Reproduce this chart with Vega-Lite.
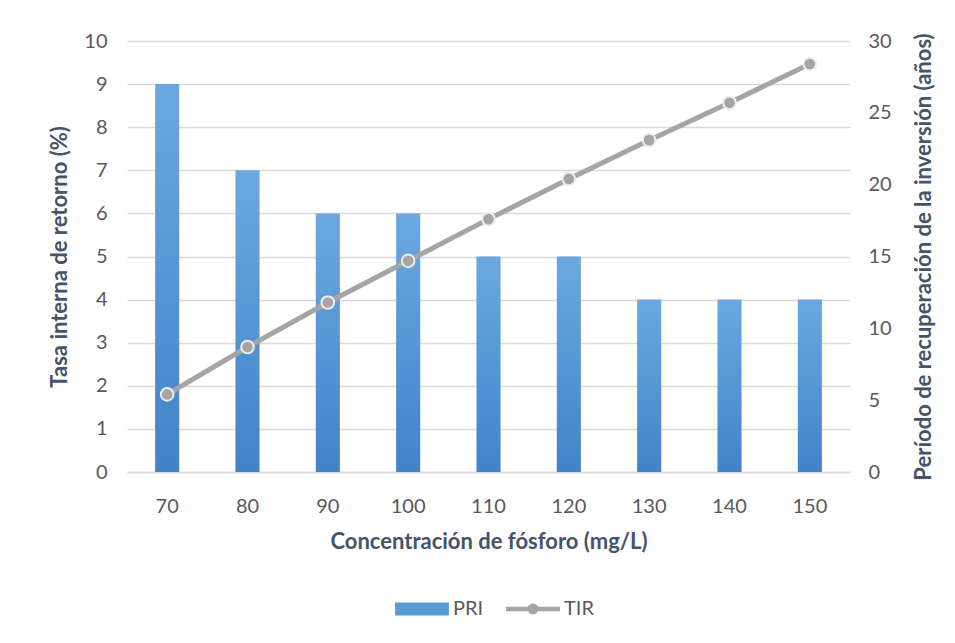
{
  "$schema": "https://vega.github.io/schema/vega-lite/v6.json",
  "width": 723,
  "height": 431,
  "autosize": {"type": "none"},
  "padding": {"left": 127, "top": 41, "right": 105, "bottom": 171},
  "background": "white",
  "config": {
    "view": {"stroke": null},
    "font": "Lato",
    "axis": {
      "labelFont": "Lato",
      "labelFontSize": 20,
      "labelColor": "#595959",
      "titleFont": "Lato",
      "titleFontSize": 22,
      "titleFontWeight": "bold",
      "titleColor": "#44546A",
      "ticks": false
    }
  },
  "data": {
    "values": [
      {"x": 70, "PRI": 9, "TIR": 5.4},
      {"x": 80, "PRI": 7, "TIR": 8.7},
      {"x": 90, "PRI": 6, "TIR": 11.8},
      {"x": 100, "PRI": 6, "TIR": 14.7},
      {"x": 110, "PRI": 5, "TIR": 17.6},
      {"x": 120, "PRI": 5, "TIR": 20.4},
      {"x": 130, "PRI": 4, "TIR": 23.1},
      {"x": 140, "PRI": 4, "TIR": 25.7},
      {"x": 150, "PRI": 4, "TIR": 28.4}
    ]
  },
  "encoding": {
    "x": {
      "field": "x",
      "type": "ordinal",
      "sort": null,
      "scale": {"paddingInner": 0.7, "paddingOuter": 0.35},
      "axis": {
        "title": "Concentración de fósforo (mg/L)",
        "labelAngle": 0,
        "labelPadding": 24,
        "titlePadding": 15,
        "domainColor": "#D9D9D9",
        "domainWidth": 1.5,
        "grid": false
      }
    }
  },
  "layer": [
    {
      "mark": {
        "type": "bar",
        "fill": {
          "gradient": "linear",
          "x1": 0, "y1": 0, "x2": 0, "y2": 1,
          "stops": [
            {"offset": 0, "color": "#6CA8E0"},
            {"offset": 1, "color": "#4283C8"}
          ]
        }
      },
      "encoding": {
        "y": {
          "field": "PRI",
          "type": "quantitative",
          "scale": {"domain": [0, 10]},
          "axis": {
            "title": "Tasa interna de retorno (%)",
            "values": [0, 1, 2, 3, 4, 5, 6, 7, 8, 9, 10],
            "domain": false,
            "grid": true,
            "gridColor": "#D9D9D9",
            "gridWidth": 1.5,
            "labelPadding": 20,
            "titlePadding": 12
          }
        }
      }
    },
    {
      "layer": [
        {
          "mark": {"type": "line", "strokeWidth": 5, "strokeCap": "round"},
          "encoding": {
            "y": {
              "field": "TIR",
              "type": "quantitative",
              "scale": {"domain": [0, 30]},
              "axis": {
                "orient": "right",
                "title": "Período de recuperación de la inversión (años)",
                "titleAngle": 270,
                "titleBaseline": "bottom",
                "values": [0, 5, 10, 15, 20, 25, 30],
                "domain": false,
                "grid": false,
                "labelPadding": 18,
                "titlePadding": 44
              }
            },
            "color": {
              "datum": "TIR",
              "type": "nominal",
              "scale": {"domain": ["PRI", "TIR"], "range": ["#5B9BD5", "#A5A5A5"]},
              "legend": {
                "title": null,
                "orient": "none",
                "legendX": 268,
                "legendY": 541,
                "direction": "horizontal",
                "symbolSize": 2900,
                "labelFont": "Lato",
                "labelFontSize": 20,
                "labelColor": "#595959",
                "labelOffset": 4,
                "columnPadding": 22,
                "encode": {
                  "symbols": {
                    "update": {
                      "shape": {"signal": "datum.value === 'PRI' ? 'M-1,-0.24H1V0.24H-1Z' : 'M-1,-0.08H1V0.08H-1Z M0.2,0A0.2,0.2,0,1,1,-0.2,0A0.2,0.2,0,1,1,0.2,0Z'"},
                      "fill": {"signal": "datum.value === 'PRI' ? '#5B9BD5' : '#A5A5A5'"},
                      "strokeWidth": {"value": 0},
                      "opacity": {"value": 1}
                    }
                  }
                }
              }
            }
          }
        },
        {
          "mark": {"type": "point", "filled": true, "fill": "#A5A5A5", "stroke": "#EDEDED", "strokeWidth": 2, "size": 160, "opacity": 1},
          "encoding": {
            "y": {"field": "TIR", "type": "quantitative"}
          }
        }
      ]
    }
  ],
  "resolve": {"scale": {"y": "independent"}}
}
